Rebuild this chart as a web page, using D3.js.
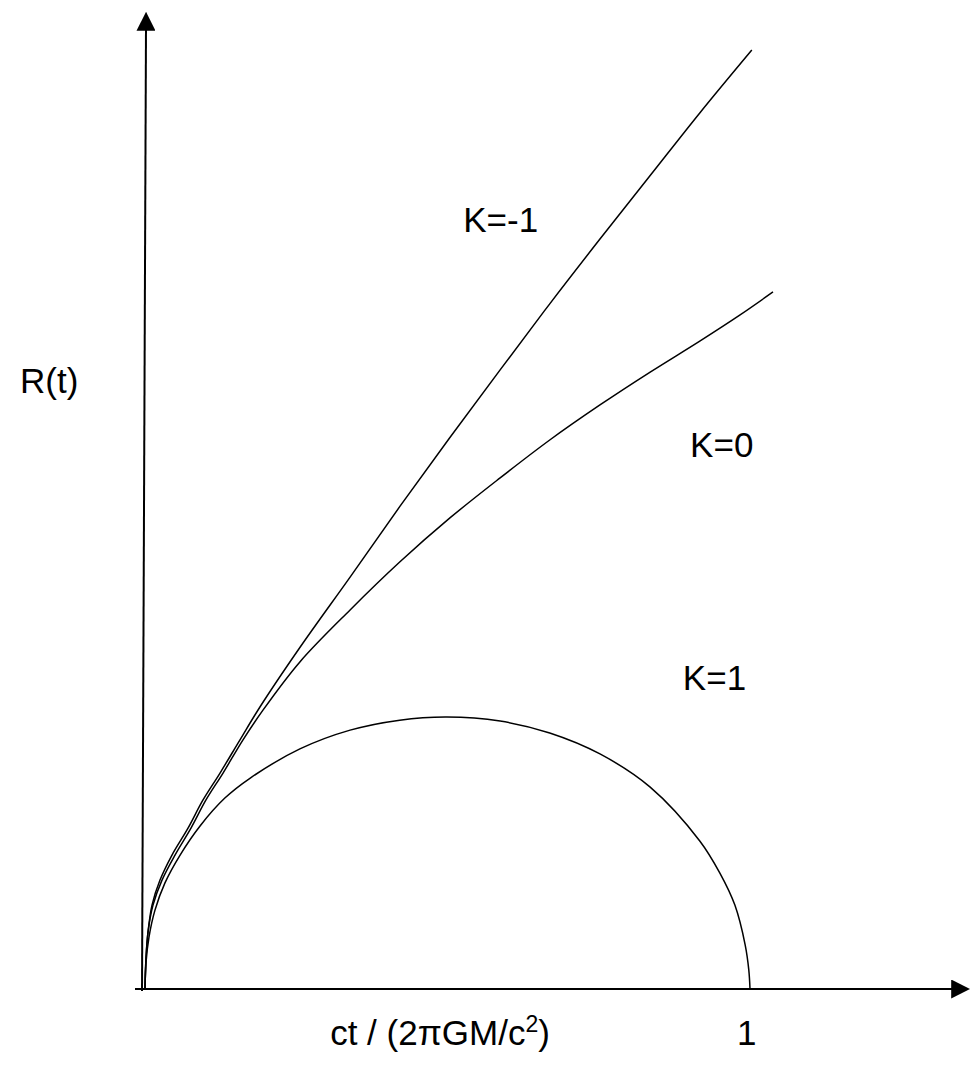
<!DOCTYPE html>
<html>
<head>
<meta charset="utf-8">
<script src="https://cdn.jsdelivr.net/npm/d3@7"></script>
<style>
  html, body { margin: 0; padding: 0; background: #fff; }
  svg text { font-family: "Liberation Sans", Arial, sans-serif; fill: #000; }
</style>
</head>
<body>
<div id="chart"></div>
<script>
// time in units of 2πGM/c², R(t) in arbitrary units
const tOpen = [0, 0.0017, 0.005, 0.0116, 0.0248, 0.0446, 0.0711, 0.0959, 0.124, 0.157, 0.190, 0.256, 0.339, 0.421, 0.504, 0.587, 0.669, 0.752, 0.835, 0.917, 1.003];
const rOpen = [0, 0.099, 0.182, 0.268, 0.348, 0.428, 0.514, 0.604, 0.690, 0.796, 0.901, 1.091, 1.316, 1.541, 1.762, 1.978, 2.189, 2.396, 2.599, 2.799, 3.0];

const tFlat = [0, 0.0017, 0.005, 0.0132, 0.0281, 0.0496, 0.076, 0.1008, 0.129, 0.162, 0.195, 0.256, 0.339, 0.421, 0.504, 0.587, 0.669, 0.752, 0.835, 0.917, 0.983, 1.038];
const rFlat = [0, 0.099, 0.182, 0.268, 0.348, 0.428, 0.514, 0.604, 0.690, 0.796, 0.891, 1.045, 1.211, 1.364, 1.505, 1.633, 1.754, 1.866, 1.971, 2.070, 2.153, 2.227];

const tClosed = [0, 0.0017, 0.0066, 0.0165, 0.033, 0.058, 0.091, 0.132, 0.174, 0.256, 0.339, 0.421, 0.499, 0.587, 0.669, 0.752, 0.835, 0.917, 0.950, 0.975, 0.992, 0.998, 1.0];
const rClosed = [0, 0.086, 0.166, 0.252, 0.339, 0.428, 0.521, 0.610, 0.674, 0.767, 0.827, 0.859, 0.869, 0.856, 0.818, 0.751, 0.645, 0.473, 0.371, 0.268, 0.141, 0.061, 0];

const curveLabels = ["K=-1", "K=0", "K=1"];
const labelT = [0.526, 0.901, 0.889];
const labelR = [2.42, 1.70, 0.955];
const xTickValues = [1];
const xTickLabels = ["1"];

const W = 972, H = 1072;
const x = d3.scaleLinear().domain([0, 1]).range([145, 750]);
const y = d3.scaleLinear().domain([0, 3]).range([989, 50]);

const svg = d3.select("#chart").append("svg")
  .attr("width", W)
  .attr("height", H);

svg.append("defs").append("marker")
  .attr("id", "arrow")
  .attr("viewBox", "0 0 10 10")
  .attr("refX", 2).attr("refY", 5)
  .attr("markerWidth", 19).attr("markerHeight", 19)
  .attr("markerUnits", "userSpaceOnUse")
  .attr("orient", "auto")
  .append("path")
    .attr("d", "M0,0 L10,5 L0,10 Z")
    .attr("fill", "#000");

// axes: plain lines with arrow heads
svg.append("line")
  .attr("x1", x(0) - 3).attr("y1", y(0) + 2)
  .attr("x2", x(0) + 1).attr("y2", 27)
  .attr("stroke", "#000").attr("stroke-width", 2)
  .attr("marker-end", "url(#arrow)");

svg.append("line")
  .attr("x1", x(0) - 10).attr("y1", y(0))
  .attr("x2", 955).attr("y2", y(0))
  .attr("stroke", "#000").attr("stroke-width", 2)
  .attr("marker-end", "url(#arrow)");

// curves
const line = d3.line()
  .x(d => x(d[0]))
  .y(d => y(d[1]))
  .curve(d3.curveCatmullRom.alpha(0.5));

const series = [
  d3.zip(tOpen, rOpen),
  d3.zip(tFlat, rFlat),
  d3.zip(tClosed, rClosed)
];

svg.selectAll("path.curve")
  .data(series)
  .join("path")
    .attr("class", "curve")
    .attr("fill", "none")
    .attr("stroke", "#000")
    .attr("stroke-width", 1.5)
    .attr("d", line);

// curve labels
svg.selectAll("text.klabel")
  .data(curveLabels)
  .join("text")
    .attr("class", "klabel")
    .attr("x", (d, i) => x(labelT[i]))
    .attr("y", (d, i) => y(labelR[i]))
    .attr("font-size", 35)
    .text(d => d);

// x tick label
svg.selectAll("text.xtick")
  .data(xTickValues)
  .join("text")
    .attr("class", "xtick")
    .attr("x", d => x(d) - 13)
    .attr("y", y(0) + 56)
    .attr("font-size", 35)
    .text((d, i) => xTickLabels[i]);

// axis titles
svg.append("text")
  .attr("x", 20).attr("y", 393)
  .attr("font-size", 35)
  .text("R(t)");

const xt = svg.append("text")
  .attr("x", 440).attr("y", y(0) + 56)
  .attr("text-anchor", "middle")
  .attr("font-size", 35);
xt.append("tspan").text("ct / (2πGM/c");
xt.append("tspan").attr("font-size", 23).attr("dy", -13).text("2");
xt.append("tspan").attr("dy", 13).text(")");
</script>
</body>
</html>
